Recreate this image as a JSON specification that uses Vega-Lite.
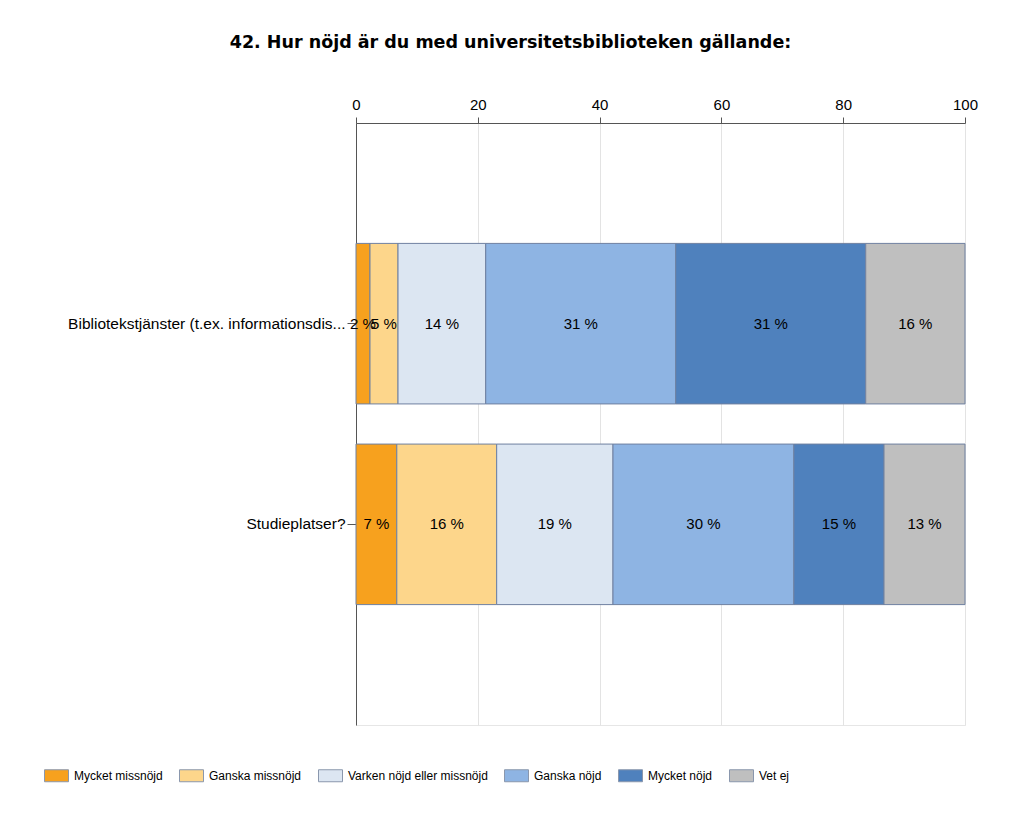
{
  "$schema": "https://vega.github.io/schema/vega-lite/v6.json",
  "width": 609,
  "height": 602,
  "autosize": {"type": "none"},
  "padding": {"left": 356, "top": 123, "right": 59, "bottom": 94},
  "background": "white",
  "title": {
    "text": "42. Hur nöjd är du med universitetsbiblioteken gällande:",
    "font": "DejaVu Sans",
    "fontSize": 17.5,
    "fontWeight": "bold",
    "color": "#000000",
    "anchor": "middle",
    "dx": -150,
    "offset": 46
  },
  "data": {
    "values": [
      {"q": "Bibliotekstjänster (t.ex. informationsdis...", "qi": 1, "cat": "Mycket missnöjd", "k": 1, "v": 2.3, "lab": "2 %"},
      {"q": "Bibliotekstjänster (t.ex. informationsdis...", "qi": 1, "cat": "Ganska missnöjd", "k": 2, "v": 4.6, "lab": "5 %"},
      {"q": "Bibliotekstjänster (t.ex. informationsdis...", "qi": 1, "cat": "Varken nöjd eller missnöjd", "k": 3, "v": 14.4, "lab": "14 %"},
      {"q": "Bibliotekstjänster (t.ex. informationsdis...", "qi": 1, "cat": "Ganska nöjd", "k": 4, "v": 31.2, "lab": "31 %"},
      {"q": "Bibliotekstjänster (t.ex. informationsdis...", "qi": 1, "cat": "Mycket nöjd", "k": 5, "v": 31.2, "lab": "31 %"},
      {"q": "Bibliotekstjänster (t.ex. informationsdis...", "qi": 1, "cat": "Vet ej", "k": 6, "v": 16.3, "lab": "16 %"},
      {"q": "Studieplatser?", "qi": 2, "cat": "Mycket missnöjd", "k": 1, "v": 6.7, "lab": "7 %"},
      {"q": "Studieplatser?", "qi": 2, "cat": "Ganska missnöjd", "k": 2, "v": 16.4, "lab": "16 %"},
      {"q": "Studieplatser?", "qi": 2, "cat": "Varken nöjd eller missnöjd", "k": 3, "v": 19.1, "lab": "19 %"},
      {"q": "Studieplatser?", "qi": 2, "cat": "Ganska nöjd", "k": 4, "v": 29.7, "lab": "30 %"},
      {"q": "Studieplatser?", "qi": 2, "cat": "Mycket nöjd", "k": 5, "v": 14.8, "lab": "15 %"},
      {"q": "Studieplatser?", "qi": 2, "cat": "Vet ej", "k": 6, "v": 13.3, "lab": "13 %"}
    ]
  },
  "transform": [
    {"stack": "v", "groupby": ["q"], "sort": [{"field": "k", "order": "ascending"}], "as": ["v0", "v1"]},
    {"calculate": "(datum.v0 + datum.v1) / 2", "as": "mid"}
  ],
  "encoding": {
    "y": {
      "field": "q",
      "type": "nominal",
      "sort": {"field": "qi", "order": "ascending"},
      "scale": {"paddingInner": 0.2, "paddingOuter": 0.6},
      "axis": {
        "title": null,
        "labelFont": "Liberation Sans",
        "labelFontSize": 15.5,
        "labelColor": "#000000",
        "labelLimit": 400,
        "labelPadding": 2,
        "tickSize": 9,
        "tickColor": "#555555",
        "domainColor": "#555555",
        "grid": false
      }
    }
  },
  "layer": [
    {
      "mark": {"type": "bar", "stroke": "#6f80a0", "strokeWidth": 1},
      "encoding": {
        "x": {
          "field": "v0",
          "type": "quantitative",
          "scale": {"domain": [0, 100], "nice": false},
          "axis": {
            "orient": "top",
            "title": null,
            "values": [0, 20, 40, 60, 80, 100],
            "labelFlush": false,
            "labelFont": "Liberation Sans",
            "labelFontSize": 15,
            "labelColor": "#000000",
            "labelPadding": 5,
            "tickSize": 6,
            "tickColor": "#555555",
            "domainColor": "#555555",
            "grid": true,
            "gridColor": "#e3e3e3"
          }
        },
        "x2": {"field": "v1"},
        "color": {
          "field": "cat",
          "type": "nominal",
          "scale": {
            "domain": ["Mycket missnöjd", "Ganska missnöjd", "Varken nöjd eller missnöjd", "Ganska nöjd", "Mycket nöjd", "Vet ej"],
            "range": ["#F7A11E", "#FDD68B", "#DCE6F2", "#8EB4E3", "#4F81BD", "#BFBFBF"]
          },
          "legend": {
            "title": null,
            "orient": "none",
            "legendX": -312,
            "legendY": 640,
            "direction": "horizontal",
            "columns": 6,
            "columnPadding": 14,
            "symbolType": "M-1,-0.5H1V0.5H-1Z",
            "symbolSize": 576,
            "symbolStrokeColor": "#8a97ad",
            "symbolStrokeWidth": 1,
            "labelFont": "Liberation Sans",
            "labelFontSize": 12,
            "labelColor": "#000000",
            "labelOffset": 5,
            "labelLimit": 300
          }
        },
        "order": {"field": "k", "type": "quantitative"}
      }
    },
    {
      "mark": {"type": "text", "font": "Liberation Sans", "fontSize": 15, "color": "#000000", "align": "center", "baseline": "middle"},
      "encoding": {
        "x": {"field": "mid", "type": "quantitative"},
        "text": {"field": "lab", "type": "nominal"}
      }
    }
  ],
  "config": {
    "view": {"stroke": "#e6e6e6"}
  }
}
